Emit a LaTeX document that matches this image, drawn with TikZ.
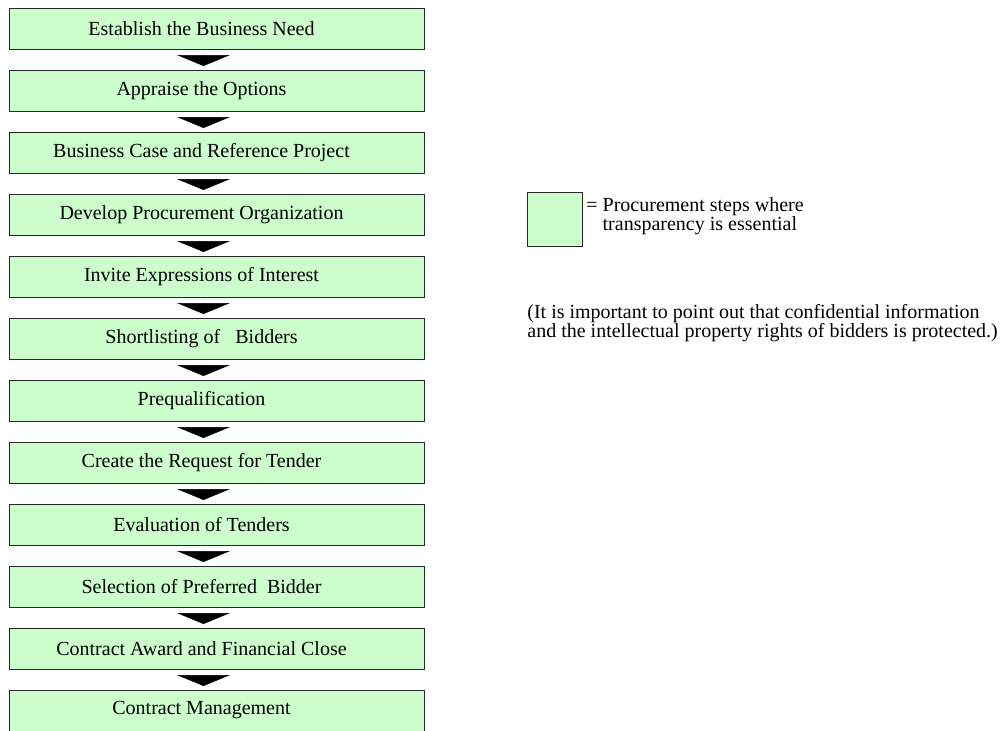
\documentclass[tikz,border=0pt]{standalone}
\usepackage{fontspec}
\setmainfont{Liberation Serif}
\usepackage{tikz}
\usetikzlibrary{arrows.meta, positioning, calc}

\definecolor{stepgreen}{HTML}{CCFFCC}

\tikzset{
	stepbox/.style={draw=black!85, line width=0.5pt, fill=stepgreen,
		minimum width=207.5pt, minimum height=20.5pt, inner sep=0pt, outer sep=0pt,
		label={[inner sep=0pt, xshift=-7.5pt]center:#1}},
	flow/.style={line width=0.3pt, draw=black, fill=black,
		-{Triangle[width=26.5pt, length=5.5pt]},
		shorten <=3pt, shorten >=2pt},
}

\begin{document}
\begin{tikzpicture}[x=0.5pt, y=-0.5pt, node distance=10.5pt,
		font=\fontsize{10}{9.6}\selectfont]
			\useasboundingbox (0,0) rectangle (1002,730);
			\clip (0,0) rectangle (1002,730);
			% Fasi della procedura
			\node[stepbox=Establish the Business Need] (s1) at (216.5,28.5) {};
			\node[stepbox=Appraise the Options, below=of s1] (s2) {};
			\node[stepbox=Business Case and Reference Project, below=of s2] (s3) {};
			\node[stepbox=Develop Procurement Organization, below=of s3] (s4) {};
			\node[stepbox=Invite Expressions of Interest, below=of s4] (s5) {};
			\node[stepbox=Shortlisting of \ \ Bidders, below=of s5] (s6) {};
			\node[stepbox=Prequalification, below=of s6] (s7) {};
			\node[stepbox=Create the Request for Tender, below=of s7] (s8) {};
			\node[stepbox=Evaluation of Tenders, below=of s8] (s9) {};
			\node[stepbox=Selection of Preferred \ Bidder, below=of s9] (s10) {};
			\node[stepbox=Contract Award and Financial Close, below=of s10] (s11) {};
			\node[stepbox=Contract Management, below=of s11] (s12) {};
			% Frecce tra le fasi
			\draw[flow] ([xshift=-6.5pt]s1.south) -- ([xshift=-6.5pt]s2.north);
			\draw[flow] ([xshift=-6.5pt]s2.south) -- ([xshift=-6.5pt]s3.north);
			\draw[flow] ([xshift=-6.5pt]s3.south) -- ([xshift=-6.5pt]s4.north);
			\draw[flow] ([xshift=-6.5pt]s4.south) -- ([xshift=-6.5pt]s5.north);
			\draw[flow] ([xshift=-6.5pt]s5.south) -- ([xshift=-6.5pt]s6.north);
			\draw[flow] ([xshift=-6.5pt]s6.south) -- ([xshift=-6.5pt]s7.north);
			\draw[flow] ([xshift=-6.5pt]s7.south) -- ([xshift=-6.5pt]s8.north);
			\draw[flow] ([xshift=-6.5pt]s8.south) -- ([xshift=-6.5pt]s9.north);
			\draw[flow] ([xshift=-6.5pt]s9.south) -- ([xshift=-6.5pt]s10.north);
			\draw[flow] ([xshift=-6.5pt]s10.south) -- ([xshift=-6.5pt]s11.north);
			\draw[flow] ([xshift=-6.5pt]s11.south) -- ([xshift=-6.5pt]s12.north);
			% Legenda
			\node[draw=black!85, line width=0.5pt, fill=stepgreen, inner sep=0pt, outer sep=0pt,
				minimum width=27.5pt, minimum height=27pt] (key) at (554.5,219) {};
			\node[align=left, inner sep=0pt, anchor=west, right=2pt of key, yshift=1.5pt] (keytext)
				{= Procurement steps where\\\phantom{= }transparency is essential};
			\node[align=left, inner sep=0pt, anchor=north west] (note)
				at ([yshift=-29pt]key.south west)
				{(It is important to point out that confidential information\\
				and the intellectual property rights of bidders is protected.)};
		\end{tikzpicture}
\end{document}
